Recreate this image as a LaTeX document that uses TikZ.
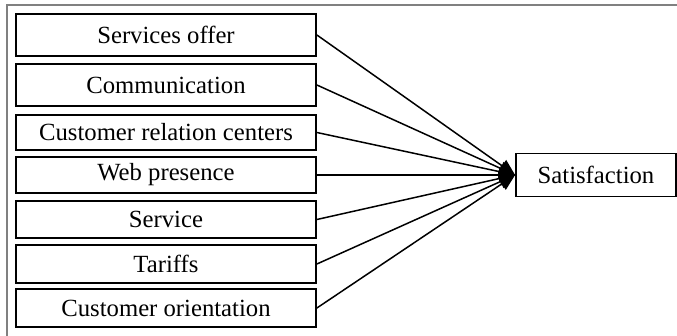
\documentclass[tikz,border=0pt]{standalone}
\usepackage{fontspec}
\setmainfont{Liberation Serif}
\usetikzlibrary{arrows.meta}
\begin{document}
\begin{tikzpicture}[x=1pt,y=-1pt,
  fac/.style={draw,line width=1.8pt,rectangle,inner sep=0pt,minimum width=300pt,font=\fontsize{24.7}{28}\selectfont},
  conn/.style={line width=1.5pt,-{Triangle[length=16pt,width=14pt]}}]
\useasboundingbox (0,0) rectangle (677,336);
\draw[gray,line width=2pt] (6.5,336) -- (6.5,5.5) -- (677,5.5);
\node[fac,minimum height=42pt] (a) at (166,35) {Services offer};
\node[fac,minimum height=42pt] (b) at (166,85) {Communication};
\node[fac,minimum height=35pt] (c) at (166,132.5) {Customer relation centers};
\node[fac,minimum height=36pt] (d) at (166,175) {Web presence};
\node[fac,minimum height=37pt] (e) at (166,219.5) {Service};
\node[fac,minimum height=38pt] (f) at (166,264) {Tariffs};
\node[fac,minimum height=38pt] (g) at (166,308) {Customer orientation};
\node[fac,minimum width=160pt,minimum height=43pt] (s) at (596,175) {Satisfaction};
\foreach \n in {a,b,c,d,e,f,g} \draw[conn] (\n.east) -- (s.west);
\end{tikzpicture}
\end{document}
